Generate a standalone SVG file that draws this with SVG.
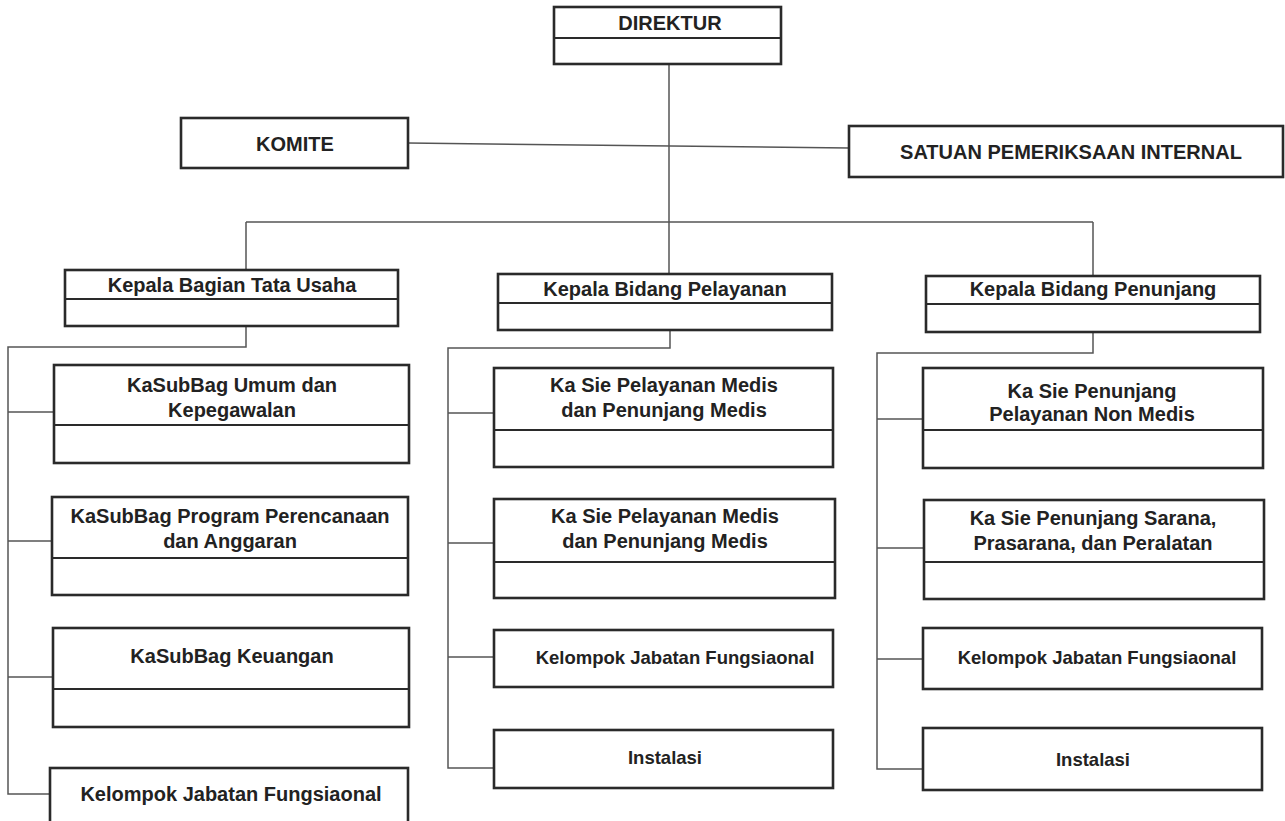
<svg xmlns="http://www.w3.org/2000/svg" width="1285" height="821" viewBox="0 0 1285 821">
<style>
.box{fill:#fff;stroke:#2a2a2a;stroke-width:2.6}
.div{stroke:#2a2a2a;stroke-width:2.2;fill:none}
.con{stroke:#555;stroke-width:1.5;fill:none}
text{font-family:"Liberation Sans",Arial,sans-serif;font-weight:bold;font-size:20px;fill:#222;text-anchor:middle}
text.sm{font-size:18.5px}
</style>
<rect width="1285" height="821" fill="#fff"/>
<g id="connectors">
<path class="con" d="M669 64 V274"/>
<path class="con" d="M408 143 L849 148"/>
<path class="con" d="M246 222 H1093 M246 222 V270 M1093 222 V276"/>
<path class="con" d="M246 326 V347 H8 V794 H50 M8 412 H54 M8 541 H52 M8 677 H53"/>
<path class="con" d="M670 330 V348 H448 V768 H494 M448 413 H494 M448 543 H494 M448 657 H494"/>
<path class="con" d="M1093 332 V353 H877 V769 H923 M877 419 H923 M877 548 H924 M877 659 H923"/>
</g>
<g id="direktur">
<rect class="box" x="554" y="7" width="227" height="57"/>
<line class="div" x1="554" y1="38" x2="781" y2="38"/>
<text x="670" y="30">DIREKTUR</text>
</g>
<g id="komite">
<rect class="box" x="181" y="118" width="227" height="50"/>
<text x="295" y="151">KOMITE</text>
</g>
<g id="spi">
<rect class="box" x="849" y="126" width="434" height="51"/>
<text x="1071" y="159">SATUAN PEMERIKSAAN INTERNAL</text>
</g>
<g id="kabag-tu">
<rect class="box" x="65" y="270" width="333" height="56"/>
<line class="div" x1="65" y1="299" x2="398" y2="299"/>
<text x="232" y="292">Kepala Bagian Tata Usaha</text>
</g>
<g id="kabid-pelayanan">
<rect class="box" x="498" y="274" width="334" height="56"/>
<line class="div" x1="498" y1="303" x2="832" y2="303"/>
<text x="665" y="296">Kepala Bidang Pelayanan</text>
</g>
<g id="kabid-penunjang">
<rect class="box" x="926" y="276" width="334" height="56"/>
<line class="div" x1="926" y1="304" x2="1260" y2="304"/>
<text x="1093" y="296">Kepala Bidang Penunjang</text>
</g>
<g id="subbag-umum">
<rect class="box" x="54" y="365" width="355" height="98"/>
<line class="div" x1="54" y1="425" x2="409" y2="425"/>
<text x="232" y="392">KaSubBag Umum dan</text>
<text x="232" y="417">Kepegawalan</text>
</g>
<g id="subbag-program">
<rect class="box" x="52" y="497" width="356" height="98"/>
<line class="div" x1="52" y1="558" x2="408" y2="558"/>
<text x="230" y="523">KaSubBag Program Perencanaan</text>
<text x="230" y="548">dan Anggaran</text>
</g>
<g id="subbag-keuangan">
<rect class="box" x="53" y="628" width="356" height="99"/>
<line class="div" x1="53" y1="689" x2="409" y2="689"/>
<text x="232" y="663">KaSubBag Keuangan</text>
</g>
<g id="kelompok-1">
<rect class="box" x="50" y="768" width="358" height="70"/>
<text x="231" y="801">Kelompok Jabatan Fungsiaonal</text>
</g>
<g id="kasie-pelayanan-1">
<rect class="box" x="494" y="368" width="339" height="99"/>
<line class="div" x1="494" y1="430" x2="833" y2="430"/>
<text x="664" y="392">Ka Sie Pelayanan Medis</text>
<text x="664" y="417">dan Penunjang Medis</text>
</g>
<g id="kasie-pelayanan-2">
<rect class="box" x="494" y="499" width="341" height="99"/>
<line class="div" x1="494" y1="562" x2="835" y2="562"/>
<text x="665" y="523">Ka Sie Pelayanan Medis</text>
<text x="665" y="548">dan Penunjang Medis</text>
</g>
<g id="kelompok-2">
<rect class="box" x="494" y="630" width="339" height="57"/>
<text class="sm" x="675" y="664">Kelompok Jabatan Fungsiaonal</text>
</g>
<g id="instalasi-2">
<rect class="box" x="494" y="730" width="339" height="58"/>
<text class="sm" x="665" y="764">Instalasi</text>
</g>
<g id="kasie-penunjang-1">
<rect class="box" x="923" y="368" width="340" height="100"/>
<line class="div" x1="923" y1="430" x2="1263" y2="430"/>
<text x="1092" y="398">Ka Sie Penunjang</text>
<text x="1092" y="421">Pelayanan Non Medis</text>
</g>
<g id="kasie-penunjang-2">
<rect class="box" x="924" y="500" width="340" height="99"/>
<line class="div" x1="924" y1="562" x2="1264" y2="562"/>
<text x="1093" y="525">Ka Sie Penunjang Sarana,</text>
<text x="1093" y="550">Prasarana, dan Peralatan</text>
</g>
<g id="kelompok-3">
<rect class="box" x="923" y="628" width="339" height="61"/>
<text class="sm" x="1097" y="664">Kelompok Jabatan Fungsiaonal</text>
</g>
<g id="instalasi-3">
<rect class="box" x="923" y="728" width="339" height="62"/>
<text class="sm" x="1093" y="766">Instalasi</text>
</g>
</svg>
